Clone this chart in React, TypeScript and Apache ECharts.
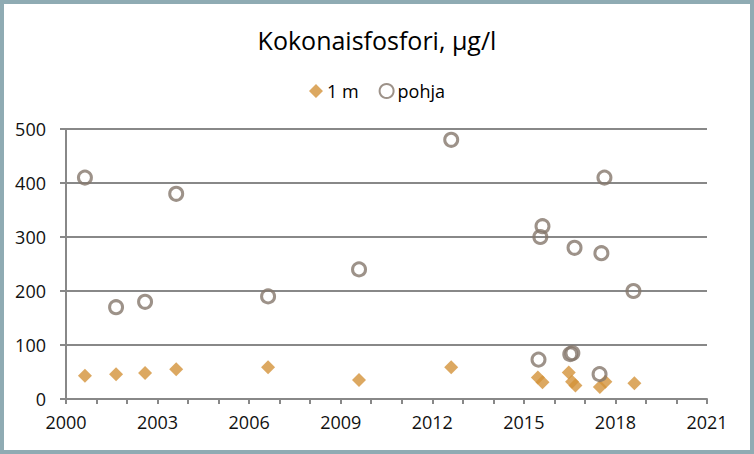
import React, { useEffect, useRef } from "react";
import * as echarts from "echarts";

const seriesNames = ["1 m", "pohja"];
const m1Years = [2000.62, 2001.64, 2002.59, 2003.61, 2006.62, 2009.6, 2012.62, 2015.46, 2015.61, 2016.47, 2016.58, 2016.69, 2017.49, 2017.67, 2018.62];
const m1Values = [43, 46, 48, 55, 59, 35, 59, 40, 31, 49, 32, 25, 22, 32, 29];
const pohjaYears = [2000.62, 2001.64, 2002.59, 2003.61, 2006.62, 2009.6, 2012.62, 2015.48, 2015.54, 2015.61, 2016.52, 2016.59, 2016.66, 2017.48, 2017.54, 2017.64, 2018.59];
const pohjaValues = [410, 170, 180, 380, 190, 240, 480, 73, 300, 320, 83, 85, 280, 46, 270, 410, 200];
const xMin = 2000;
const xMax = 2021;
const xStep = 3;
const yMin = 0;
const yMax = 500;
const yStep = 100;

const FONT = "'Open Sans', 'Liberation Sans', sans-serif";

export default function App() {
  const ref = useRef<HTMLDivElement>(null);
  useEffect(() => {
    document.body.style.margin = "0";
    const chart = echarts.init(ref.current!, null, { renderer: "svg" });
    const gridColor = "#888888";
    chart.setOption({
      animation: false,
      backgroundColor: "#ffffff",
      title: {
        text: "Kokonaisfosfori, µg/l",
        left: "center",
        top: 22,
        textStyle: { fontFamily: FONT, fontSize: 25, fontWeight: "normal", color: "#000000" },
      },
      legend: {
        top: 77,
        left: "center",
        itemWidth: 14,
        itemHeight: 14,
        itemGap: 20,
        data: [
          { name: seriesNames[0], icon: "diamond" },
          { name: seriesNames[1], icon: "circle" },
        ],
        textStyle: { fontFamily: FONT, fontSize: 18, color: "#000000", padding: [0, 0, 0, -1] },
      },
      graphic: [
        {
          type: "rect",
          shape: { x: 2, y: 2, width: 750, height: 450 },
          style: { fill: "none", stroke: "#8fabb3", lineWidth: 4 },
          silent: true,
        },
      ],
      grid: { left: 66, right: 47, top: 129, bottom: 55 },
      xAxis: {
        type: "value",
        min: xMin,
        max: xMax,
        interval: xStep,
        axisLine: { show: true, lineStyle: { color: gridColor, width: 2 } },
        axisTick: { show: true, length: 5, lineStyle: { color: gridColor, width: 2 } },
        minorTick: { show: true, splitNumber: 3, length: 5, lineStyle: { color: gridColor, width: 2 } },
        splitLine: { show: false },
        axisLabel: {
          fontFamily: FONT,
          fontSize: 18,
          color: "#111111",
          margin: 14,
          formatter: (v: number) => String(v),
        },
      },
      yAxis: {
        type: "value",
        min: yMin,
        max: yMax,
        interval: yStep,
        axisLine: { show: true, lineStyle: { color: gridColor, width: 2 } },
        axisTick: { show: true, length: 6, lineStyle: { color: gridColor, width: 2 } },
        splitLine: { show: true, lineStyle: { color: gridColor, width: 2 } },
        axisLabel: {
          fontFamily: FONT,
          fontSize: 18,
          color: "#111111",
          margin: 20,
          formatter: (v: number) => String(v),
        },
      },
      series: [
        {
          name: seriesNames[0],
          type: "scatter",
          symbol: "diamond",
          symbolSize: 14,
          itemStyle: { color: "#d3923a" },
          data: m1Years.map((x, i) => [x, m1Values[i]]),
        },
        {
          name: seriesNames[1],
          type: "scatter",
          symbol: "circle",
          symbolSize: 13,
          itemStyle: { color: "rgba(255,255,255,0)", borderColor: "#85776b", borderWidth: 3 },
          data: pohjaYears.map((x, i) => [x, pohjaValues[i]]),
        },
      ],
    });
    return () => chart.dispose();
  }, []);
  return <div ref={ref} style={{ width: 754, height: 454 }} />;
}
